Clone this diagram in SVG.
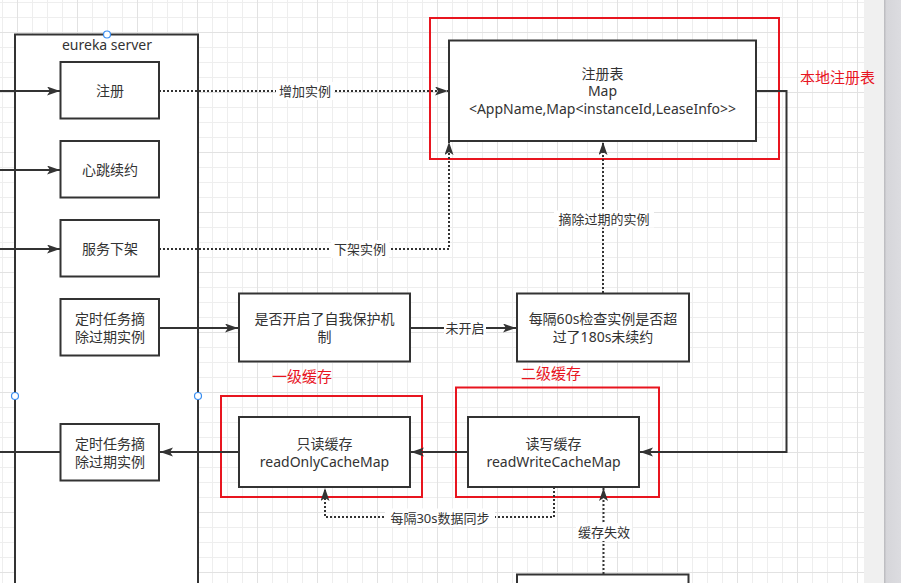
<svg xmlns="http://www.w3.org/2000/svg" width="901" height="583" viewBox="0 0 901 583">
<defs>
<pattern id="grid" x="17" y="32" width="60" height="60" patternUnits="userSpaceOnUse">
<rect width="60" height="60" fill="#ffffff"/>
<path d="M15.5 0V60M30.5 0V60M45.5 0V60M0 15.5H60M0 30.5H60M0 45.5H60" stroke="#eeeeee" stroke-width="1"/>
<path d="M0.5 0V60M0 0.5H60" stroke="#e2e2e2" stroke-width="1"/>
</pattern>
<linearGradient id="sb" x1="0" y1="0" x2="1" y2="0">
<stop offset="0" stop-color="#b8b8bc"/>
<stop offset="0.15" stop-color="#d6d6da"/>
<stop offset="1" stop-color="#dcdce0"/>
</linearGradient>
<marker id="arr" markerUnits="userSpaceOnUse" markerWidth="14" markerHeight="10" refX="13" refY="4.5" orient="auto">
<path d="M0,0 L13,4.5 L0,9 L3,4.5 Z" fill="#333333"/>
</marker>
<style>
.box{fill:#ffffff;stroke:#333333;stroke-width:2}
.red{fill:none;stroke:#e8151f;stroke-width:2}
.t{font-family:"Noto Sans","Noto Sans CJK SC",sans-serif;font-size:14px;fill:#333333;text-anchor:middle;dominant-baseline:central}
.lb{font-family:"Noto Sans","Noto Sans CJK SC",sans-serif;font-size:13px;fill:#333333;text-anchor:middle;dominant-baseline:central}
.rt{font-family:"Noto Sans CJK SC",sans-serif;font-size:15px;fill:#e8151f;text-anchor:middle;dominant-baseline:central}
.ln{fill:none;stroke:#333333;stroke-width:2}
.dt{fill:none;stroke:#333333;stroke-width:2;stroke-dasharray:2 2}
.lbg{fill:#ffffff}
.h{fill:#ffffff;stroke:#3a8ef0;stroke-width:1.2}
</style>
</defs>
<rect x="0" y="0" width="864" height="583" fill="url(#grid)"/>
<rect x="864" y="0" width="20" height="583" fill="#f0f0f0"/>
<rect x="884" y="0" width="17" height="583" fill="url(#sb)"/>

<g id="eureka-server">
<rect x="15" y="34.5" width="183" height="560" class="box"/>
<text x="107" y="44.5" class="t">eureka server</text>
</g>

<g id="red-frames">
<rect x="430" y="18" width="349" height="141" class="red"/>
<rect x="221" y="396" width="201" height="101" class="red"/>
<rect x="456" y="387.5" width="203" height="109.5" class="red"/>
<text x="837.5" y="76" class="rt">本地注册表</text>
<text x="302" y="375" class="rt">一级缓存</text>
<text x="551" y="372" class="rt">二级缓存</text>
</g>

<g id="connectors">
<path d="M0 91H60" class="ln" marker-end="url(#arr)"/>
<path d="M0 170H60" class="ln" marker-end="url(#arr)"/>
<path d="M0 249H60" class="ln" marker-end="url(#arr)"/>
<path d="M0 452H60" class="ln"/>
<path d="M159 91H448" class="dt" marker-end="url(#arr)"/>
<path d="M159 249H449V142" class="dt" marker-end="url(#arr)"/>
<path d="M603 293V142" class="dt" marker-end="url(#arr)"/>
<path d="M159 328H238" class="ln" marker-end="url(#arr)"/>
<path d="M410 328H516" class="ln" marker-end="url(#arr)"/>
<path d="M756 91H786.5V452H640" class="ln" marker-end="url(#arr)"/>
<path d="M468 452H411" class="ln" marker-end="url(#arr)"/>
<path d="M239 452H160" class="ln" marker-end="url(#arr)"/>
<path d="M554 487V517H325V488" class="dt" marker-end="url(#arr)"/>
<path d="M603.5 574V488" class="dt" marker-end="url(#arr)"/>
<rect x="276" y="82" width="58" height="18" class="lbg"/>
<text x="305" y="91" class="lb">增加实例</text>
<rect x="331" y="240" width="58" height="18" class="lbg"/>
<text x="360" y="249" class="lb">下架实例</text>
<rect x="554" y="210.5" width="100" height="17" class="lbg"/>
<text x="604" y="219" class="lb">摘除过期的实例</text>
<rect x="444" y="319" width="42" height="18" class="lbg"/>
<text x="465" y="328" class="lb">未开启</text>
<rect x="385" y="508.5" width="110" height="18" class="lbg"/>
<text x="440" y="517.5" class="lb">每隔30s数据同步</text>
<rect x="576" y="523" width="56" height="18" class="lbg"/>
<text x="604" y="532" class="lb">缓存失效</text>
</g>

<g id="node-register">
<rect x="60.5" y="62" width="98.5" height="56.5" class="box"/>
<text x="110" y="90.5" class="t">注册</text>
</g>
<g id="node-heartbeat">
<rect x="60.5" y="141" width="98.5" height="56.5" class="box"/>
<text x="110" y="169.5" class="t">心跳续约</text>
</g>
<g id="node-cancel">
<rect x="60.5" y="220" width="98.5" height="56.5" class="box"/>
<text x="110" y="248.5" class="t">服务下架</text>
</g>
<g id="node-evict-task-1">
<rect x="60.5" y="299" width="98.5" height="56.5" class="box"/>
<text x="110" y="318.5" class="t">定时任务摘</text>
<text x="110" y="336.5" class="t">除过期实例</text>
</g>
<g id="node-evict-task-2">
<rect x="60.5" y="424" width="98.5" height="56.5" class="box"/>
<text x="110" y="443.5" class="t">定时任务摘</text>
<text x="110" y="461.5" class="t">除过期实例</text>
</g>
<g id="node-registry">
<rect x="449" y="40.5" width="307" height="100.5" class="box"/>
<text x="602.5" y="73" class="t">注册表</text>
<text x="602.5" y="90.5" class="t">Map</text>
<text x="602.5" y="108.5" class="t">&lt;AppName,Map&lt;instanceId,LeaseInfo&gt;&gt;</text>
</g>
<g id="node-self-preservation">
<rect x="239" y="293.5" width="171" height="68" class="box"/>
<text x="324.5" y="318.5" class="t">是否开启了自我保护机</text>
<text x="324.5" y="336.5" class="t">制</text>
</g>
<g id="node-check">
<rect x="517" y="293.5" width="172" height="68" class="box"/>
<text x="603" y="318.5" class="t">每隔60s检查实例是否超</text>
<text x="603" y="336.5" class="t">过了180s未续约</text>
</g>
<g id="node-readonly">
<rect x="239" y="417" width="171" height="70" class="box"/>
<text x="324.5" y="443" class="t">只读缓存</text>
<text x="324.5" y="461" class="t">readOnlyCacheMap</text>
</g>
<g id="node-readwrite">
<rect x="468" y="417" width="171" height="70" class="box"/>
<text x="553.5" y="443" class="t">读写缓存</text>
<text x="553.5" y="461" class="t">readWriteCacheMap</text>
</g>
<g id="node-bottom">
<rect x="517" y="574.5" width="171.5" height="40" class="box"/>
</g>

<g id="handles">
<circle cx="107" cy="34.5" r="3.5" class="h"/>
<circle cx="15" cy="396" r="3.5" class="h"/>
<circle cx="198" cy="396" r="3.5" class="h"/>
</g>
</svg>
